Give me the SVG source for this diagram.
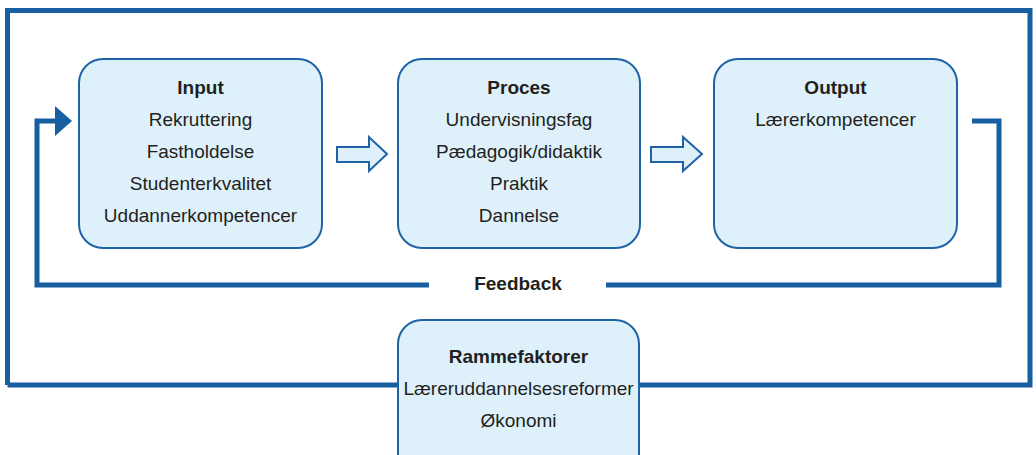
<svg xmlns="http://www.w3.org/2000/svg" width="1036" height="455" viewBox="0 0 1036 455">
<style>
.box{fill:#def1fb;stroke:#1f62a6;stroke-width:2}
.line{fill:none;stroke:#185fa2;stroke-width:5}
.barr{fill:#def1fb;stroke:#1f62a6;stroke-width:2;stroke-linejoin:miter}
text{font-family:"Liberation Sans",Arial,sans-serif;font-size:19px;fill:#231f20;text-anchor:middle}
.t{font-weight:bold}
</style>
<rect width="1036" height="455" fill="#ffffff"/>
<g id="connectors">
<polyline class="line" points="7.5,385 7.5,10.5 1030,10.5 1030,385 7.5,385"/>
<polyline class="line" points="972,121 999,121 999,285 606,285"/>
<polyline class="line" points="429,285 37,285 37,121 58,121"/>
<polygon points="55,106 72,121 55,136" fill="#185fa2"/>
<polygon class="barr" points="337,147 369,147 369,137 387,154 369,171 369,162 337,162"/>
<polygon class="barr" points="651,147 683,147 683,137 702,154 683,171 683,162 651,162"/>
</g>
<g id="input">
<rect class="box" x="79" y="59" width="243" height="189" rx="24"/>
<text class="t" x="200.5" y="94">Input</text>
<text x="200.5" y="126">Rekruttering</text>
<text x="200.5" y="158">Fastholdelse</text>
<text x="200.5" y="190">Studenterkvalitet</text>
<text x="200.5" y="222">Uddannerkompetencer</text>
</g>
<g id="proces">
<rect class="box" x="398" y="59" width="242" height="189" rx="24"/>
<text class="t" x="519" y="94">Proces</text>
<text x="519" y="126">Undervisningsfag</text>
<text x="519" y="158">Pædagogik/didaktik</text>
<text x="519" y="190">Praktik</text>
<text x="519" y="222">Dannelse</text>
</g>
<g id="output">
<rect class="box" x="714" y="59" width="243" height="189" rx="24"/>
<text class="t" x="835.5" y="94">Output</text>
<text x="835.5" y="126">Lærerkompetencer</text>
</g>
<g id="feedback">
<text class="t" x="518" y="290">Feedback</text>
</g>
<g id="rammefaktorer">
<rect class="box" x="398" y="320" width="241" height="160" rx="24"/>
<text class="t" x="518.5" y="363">Rammefaktorer</text>
<text x="518.5" y="395">Læreruddannelsesreformer</text>
<text x="518.5" y="427">Økonomi</text>
</g>
</svg>
